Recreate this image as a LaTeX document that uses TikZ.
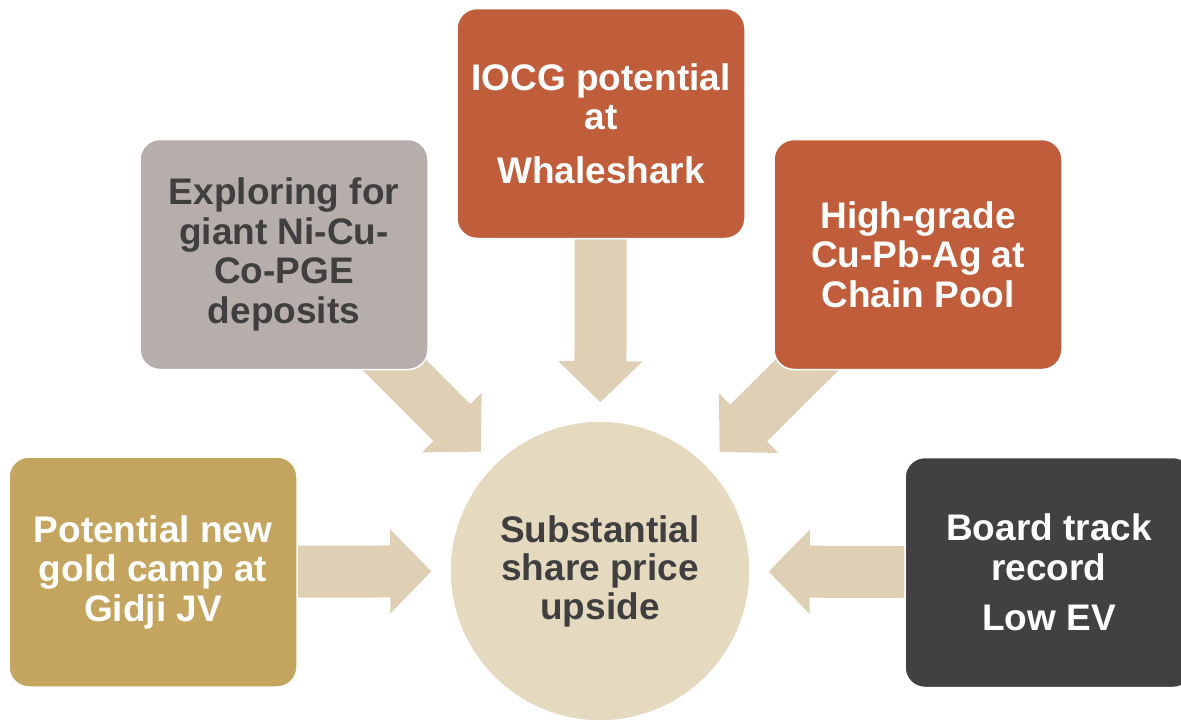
\documentclass[tikz,border=0pt]{standalone}
\usepackage{fontspec}
\setmainfont{Liberation Sans}
\usetikzlibrary{arrows.meta}
\pgfdeclarelayer{back}
\pgfsetlayers{back,main}
\definecolor{goldc}{HTML}{C4A55F}
\definecolor{grayc}{HTML}{B6AEAB}
\definecolor{orangec}{HTML}{C05E3C}
\definecolor{darkc}{HTML}{414042}
\definecolor{arrowc}{HTML}{DFD0B5}
\definecolor{circc}{HTML}{E5DAC0}
\definecolor{textdark}{HTML}{3F3F3F}
\tikzset{
  card/.style={rectangle, rounded corners=20pt, draw=white, line width=1.5pt,
    minimum width=288pt, minimum height=230pt, align=center, inner sep=0pt,
    font=\fontsize{37}{39.5}\selectfont\bfseries},
  hub/.style={circle, fill=circc, draw=white, line width=1.5pt, minimum size=300pt,
    align=center, inner sep=0pt, text=textdark,
    font=\fontsize{37}{38.5}\selectfont\bfseries},
  bigarrow/.style={draw=arrowc, line width=52pt,
    -{Triangle[length=41pt, width=84pt, line width=2pt, fill=arrowc, color=arrowc]},
    shorten >=18pt}
}
\begin{document}
\begin{tikzpicture}[x=1pt, y=-1pt]
\useasboundingbox (0,0) rectangle (1181,720);

\node[hub] (circ) at (600,571) {Substantial\\share price\\upside};

\node[card, fill=goldc, text=white] (gold) at (153,572) {Potential new\\gold camp at\\Gidji JV};
\node[card, fill=grayc, text=textdark] (gray) at (284,254.5) {Exploring for\\giant Ni-Cu-\\Co-PGE\\deposits};
\node[card, fill=orangec, text=white] (top) at (601,123.5) {IOCG potential\\at\\[14pt]Whaleshark};
\node[card, fill=orangec, text=white] (chain) at (918,254.5) {High-grade\\Cu-Pb-Ag at\\Chain Pool};
\node[card, fill=darkc, text=white] (board) at (1049,572.5) {Board track\\record\\[11pt]Low EV};

\begin{pgfonlayer}{back}
  \fill[white] (0,0) rectangle (1181,720);
  \draw[bigarrow] (gold.center) -- (circ);
  \draw[bigarrow] (gray.center) -- (circ);
  \draw[bigarrow] (top.center) -- (circ);
  \draw[bigarrow] (chain.center) -- (circ);
  \draw[bigarrow] (board.center) -- (circ);
\end{pgfonlayer}
\end{tikzpicture}
\end{document}
